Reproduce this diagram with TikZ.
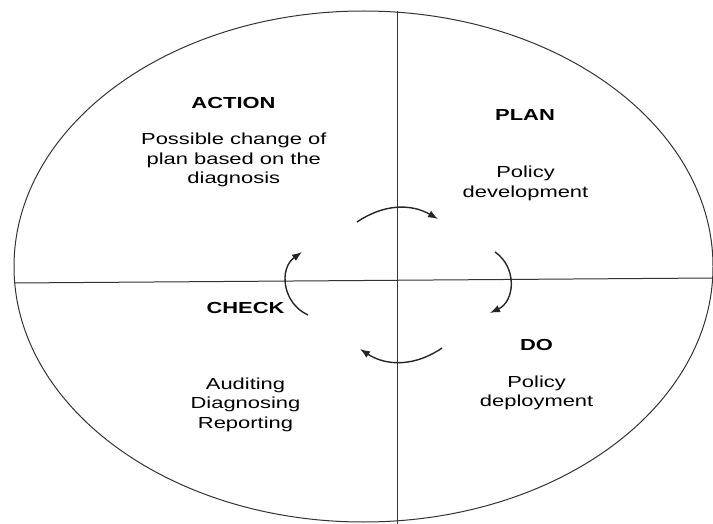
\documentclass[tikz,border=0pt]{standalone}
\usepackage{fontspec}
\setmainfont{Liberation Sans}[FakeStretch=1.37]
\usetikzlibrary{arrows.meta}

\begin{document}
\begin{tikzpicture}[
    x=1pt, y=1pt,
    rim/.style={draw=black!80, line width=1pt},
    cyclearrow/.style={draw=black!85, line width=1.4pt,
      -{Latex[length=10pt,width=7.5pt]}, bend left=#1},
    heading/.style={font=\fontsize{16}{19.5}\selectfont\bfseries, inner sep=0pt},
    body/.style={font=\fontsize{16}{19.5}\selectfont, align=center, inner sep=0pt},
  ]
    \useasboundingbox (0,0) rectangle (713,-524);

    \draw[rim] (363.5,-266.5) ellipse [x radius=349.5, y radius=255.5];
    \coordinate (west) at (14,-283);
    \coordinate (east) at (713,-278);
    \coordinate (north) at (397,-11);
    \coordinate (south) at (397,-524);
    \draw[rim] (west) -- (east);
    \draw[rim] (north) -- (south);

    \node[heading] (action) at (233.5,-102.5) {ACTION};
    \node[body] (actiontext) at (233.8,-160) {Possible change of\\plan based on the\\diagnosis};
    \node[heading] (plan) at (525,-115) {PLAN};
    \node[body] (plantext) at (525.5,-183.5) {Policy\\development};
    \node[heading] (check) at (245.5,-307.5) {CHECK};
    \node[body] (checktext) at (245.5,-404.4) {Auditing\\Diagnosing\\Reporting};
    \node[heading] (do) at (536.6,-345) {DO};
    \node[body] (dotext) at (536.6,-393) {Policy\\deployment};

    \coordinate (t1) at (357,-222);
    \coordinate (t2) at (438,-219);
    \coordinate (r1) at (495,-252);
    \coordinate (r2) at (490,-313);
    \coordinate (b1) at (442,-348);
    \coordinate (b2) at (360,-349);
    \coordinate (l1) at (308,-315);
    \coordinate (l2) at (302,-252);
    \draw[cyclearrow=32] (t1) to (t2);
    \draw[cyclearrow=60, looseness=1.15] (r1) to (r2);
    \draw[cyclearrow=34] (b1) to (b2);
    \draw[cyclearrow=60, looseness=1.15] (l1) to (l2);
  \end{tikzpicture}
\end{document}
